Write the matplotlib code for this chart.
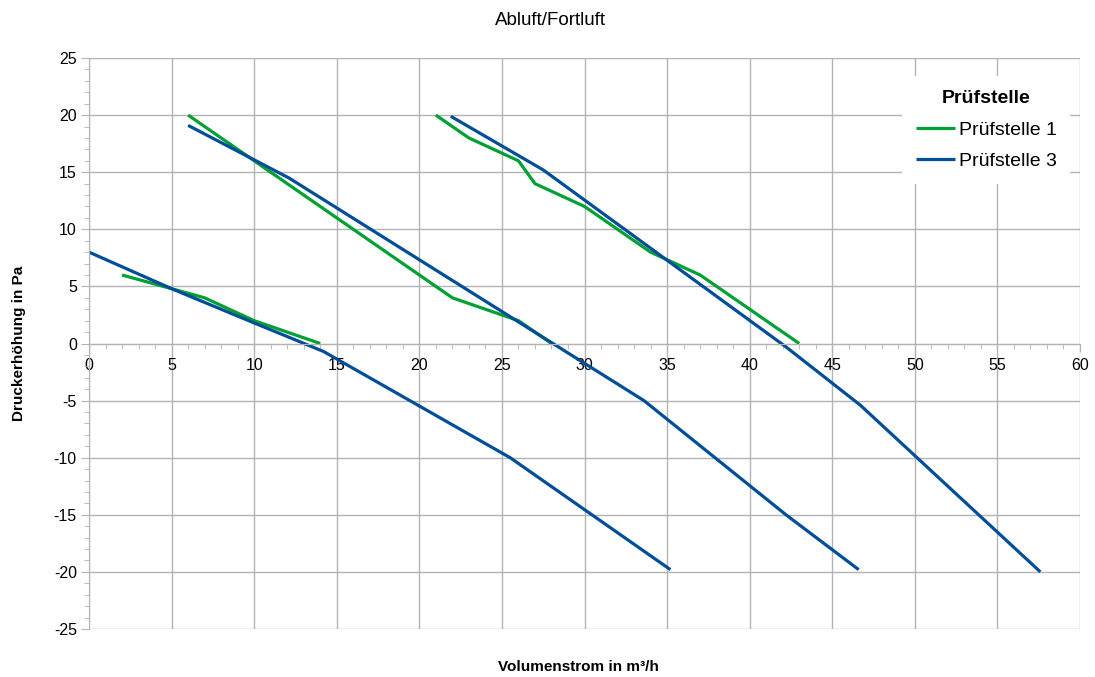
import numpy as np
import matplotlib
matplotlib.use("Agg")
import matplotlib.pyplot as plt
import matplotlib.ticker as ticker

plt.rcParams['font.family'] = ['Liberation Sans', 'DejaVu Sans']
plt.rcParams['axes.unicode_minus'] = False

# Prüfstelle 1 (three fan curves)
p1_x = [[2, 7, 10, 14],
        [6, 22, 26, 28],
        [21, 23, 26, 27, 30, 34, 37, 43]]
p1_y = [[6, 4, 2, 0],
        [20, 4, 2, 0],
        [20, 18, 16, 14, 12, 8, 6, 0]]

# Prüfstelle 3 (three fan curves)
p3_x = [[0, 5, 10, 14.2, 25.5, 35.2],
        [6, 12.1, 33.6, 42.2, 46.6],
        [21.9, 27.5, 42.2, 46.7, 57.6]]
p3_y = [[8, 4.8, 1.8, -0.7, -10, -19.8],
        [19.1, 14.5, -5, -15, -19.8],
        [19.9, 15.2, -0.3, -5.4, -20]]

green = '#00a133'
blue = '#004e9a'
grid_col = '#b3b3b3'

fig = plt.figure(figsize=(10.95, 6.77), dpi=100)
ax = fig.add_axes([0.0813, 0.0709, 0.905, 0.8434])

for i in range(len(p1_x)):
    ax.plot(p1_x[i], p1_y[i], color=green, lw=2.3,
            label='Prüfstelle 1' if i == 0 else None, solid_capstyle='butt')
for i in range(len(p3_x)):
    ax.plot(p3_x[i], p3_y[i], color=blue, lw=2.3,
            label='Prüfstelle 3' if i == 0 else None, solid_capstyle='butt')

ax.set_xlim(0, 60)
ax.set_ylim(-25, 25)
ax.xaxis.set_major_locator(ticker.MultipleLocator(5))
ax.xaxis.set_minor_locator(ticker.MultipleLocator(1))
ax.yaxis.set_major_locator(ticker.MultipleLocator(5))
ax.yaxis.set_minor_locator(ticker.MultipleLocator(1))

ax.grid(True, which='major', color=grid_col, lw=1.0)
ax.set_axisbelow(True)

ax.spines['top'].set_visible(False)
ax.spines['right'].set_visible(False)
ax.spines['bottom'].set_position(('data', 0))
ax.spines['bottom'].set_color(grid_col)
ax.spines['left'].set_color(grid_col)

ax.tick_params(which='major', length=5.75, color=grid_col, labelsize=11.5, labelcolor='#000000')
ax.tick_params(which='minor', length=3.6, color=grid_col)
ax.tick_params(axis='x', which='major', pad=5)
ax.tick_params(axis='y', which='major', pad=3.0)

# title and axis labels
fig.text(0.5025, 1 - 25 / 677, 'Abluft/Fortluft', ha='center', va='baseline', fontsize=13.5)
ax.text(0.494, -0.067, 'Volumenstrom in m³/h', transform=ax.transAxes,
        ha='center', va='center', fontsize=11, fontweight='bold')
ax.text(-0.0705, 0.5, 'Druckerhöhung in Pa', transform=ax.transAxes, rotation=90,
        ha='center', va='center', fontsize=11, fontweight='bold')

leg = ax.legend(loc='upper right', bbox_to_anchor=(1.0, 0.985), title='Prüfstelle',
                fontsize=14, handlelength=2.0, handletextpad=0.2,
                frameon=True, fancybox=False, borderpad=0.7, labelspacing=0.72)
leg.get_frame().set_facecolor('white')
leg.get_frame().set_edgecolor('none')
leg.get_frame().set_alpha(1)
leg.get_title().set_fontweight('bold')
leg.get_title().set_fontsize(14)

fig.savefig('out.png', dpi=100)
